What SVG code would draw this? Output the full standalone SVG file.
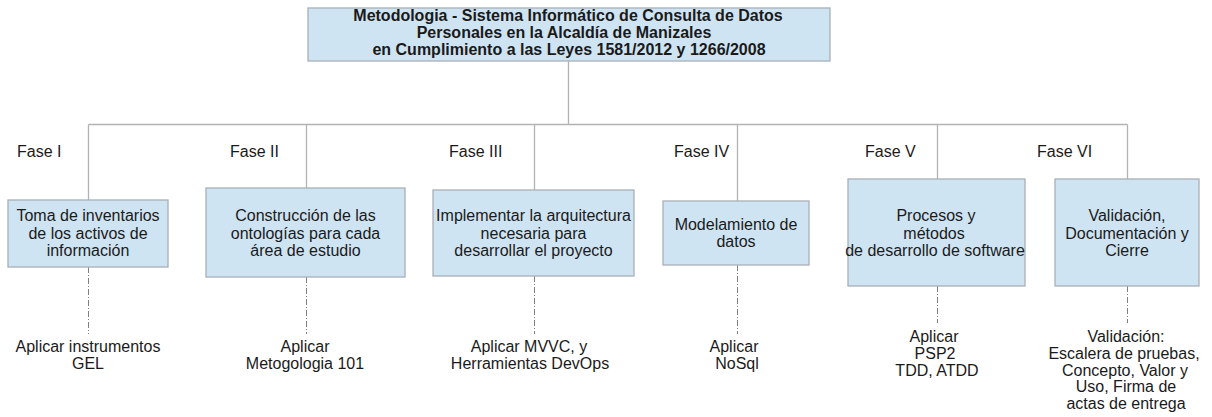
<svg xmlns="http://www.w3.org/2000/svg" width="1212" height="417" viewBox="0 0 1212 417">
<style>
text{font-family:"Liberation Sans",Arial,sans-serif;font-size:16px;fill:#1a1a1a}
.t{font-weight:bold;text-anchor:middle}
.c{text-anchor:middle}
.box{fill:#cfe4f3;stroke:#a9b0b6;stroke-width:1.3}
.ln{stroke:#b3b3b3;stroke-width:1.3;fill:none}
.dd{stroke:#808080;stroke-width:1;fill:none;stroke-dasharray:6 2 1 2}
</style>
<rect width="1212" height="417" fill="#ffffff"/>
<g id="connectors">
<path class="ln" d="M568.5 61V124.5M88.5 124.5H1127.5M88.5 124.5V200M306.5 124.5V188M534.5 124.5V190M737.5 124.5V201M937.5 124.5V179M1127.5 124.5V179"/>
<path class="dd" d="M88.5 267V334M306.5 277V334M534.5 276V334M737.5 265V334M937.5 286V323M1127.5 286V323"/>
</g>
<g id="root">
<rect class="box" x="308" y="8" width="522" height="53"/>
<text class="t" x="568" y="21">Metodologia - Sistema Informático de Consulta de Datos</text>
<text class="t" x="564" y="38">Personales en la Alcaldía de Manizales</text>
<text class="t" x="569" y="55">en Cumplimiento a las Leyes 1581/2012 y 1266/2008</text>
</g>
<g id="fase1">
<text x="17" y="157">Fase I</text>
<rect class="box" x="8" y="200" width="160" height="67"/>
<text class="c" x="88" y="221">Toma de inventarios</text>
<text class="c" x="88" y="238.5">de los activos de</text>
<text class="c" x="88" y="256">información</text>
<text class="c" x="88" y="352">Aplicar instrumentos</text>
<text class="c" x="88" y="368.5">GEL</text>
</g>
<g id="fase2">
<text x="230" y="157">Fase II</text>
<rect class="box" x="206" y="188" width="199" height="89"/>
<text class="c" x="305.5" y="221">Construcción de las</text>
<text class="c" x="305.5" y="238.5">ontologías para cada</text>
<text class="c" x="305.5" y="256">área de estudio</text>
<text class="c" x="305" y="352">Aplicar</text>
<text class="c" x="305" y="368.5">Metogologia 101</text>
</g>
<g id="fase3">
<text x="449" y="157">Fase III</text>
<rect class="box" x="433" y="190" width="201" height="86"/>
<text class="c" x="533.5" y="221">Implementar la arquitectura</text>
<text class="c" x="533.5" y="238.5">necesaria para</text>
<text class="c" x="533.5" y="256">desarrollar el proyecto</text>
<text class="c" x="529" y="352">Aplicar MVVC, y</text>
<text class="c" x="530" y="368.5">Herramientas DevOps</text>
</g>
<g id="fase4">
<text x="674" y="157">Fase IV</text>
<rect class="box" x="663" y="201" width="146" height="64"/>
<text class="c" x="736" y="230">Modelamiento de</text>
<text class="c" x="736" y="247">datos</text>
<text class="c" x="734" y="352">Aplicar</text>
<text class="c" x="737" y="368.5">NoSql</text>
</g>
<g id="fase5">
<text x="865" y="157">Fase V</text>
<rect class="box" x="848" y="179" width="177" height="107"/>
<text class="c" x="936" y="221">Procesos y</text>
<text class="c" x="934" y="238.5">métodos</text>
<text class="c" x="935" y="256">de desarrollo de software</text>
<text class="c" x="934" y="342">Aplicar</text>
<text class="c" x="935" y="359">PSP2</text>
<text class="c" x="937" y="375.5">TDD, ATDD</text>
</g>
<g id="fase6">
<text x="1037" y="157">Fase VI</text>
<rect class="box" x="1055" y="179" width="144" height="107"/>
<text class="c" x="1127" y="221">Validación,</text>
<text class="c" x="1127" y="238.5">Documentación y</text>
<text class="c" x="1127" y="256">Cierre</text>
<text class="c" x="1126" y="342">Validación:</text>
<text class="c" x="1124" y="359">Escalera de pruebas,</text>
<text class="c" x="1125" y="375.5">Concepto, Valor y</text>
<text class="c" x="1126" y="392">Uso, Firma de</text>
<text class="c" x="1126" y="409">actas de entrega</text>
</g>
</svg>
